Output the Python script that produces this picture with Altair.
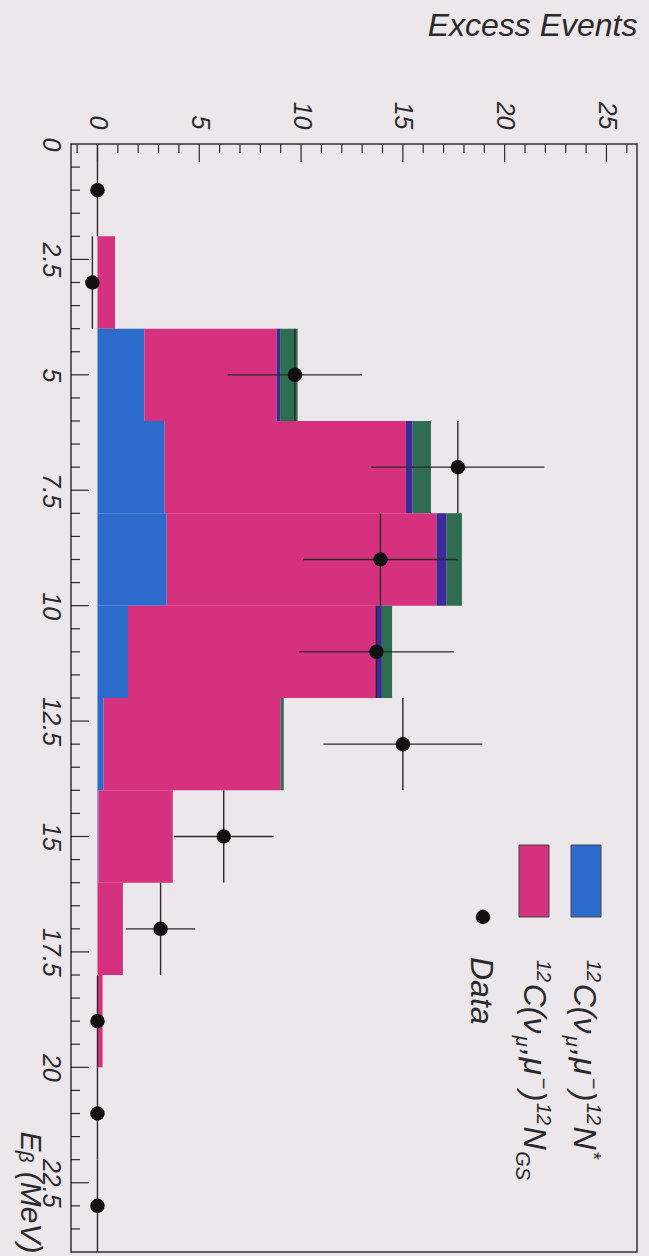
import altair as alt
import pandas as pd

# ---- data -------------------------------------------------------------
# Energy bins of the histogram (MeV)
bin_lo = [0, 2, 4, 6, 8, 10, 12, 14, 16, 18, 20, 22]
bin_hi = [2, 4, 6, 8, 10, 12, 14, 16, 18, 20, 22, 24]

# Expected excess per bin, by process
n_star = [0, 0, 2.3, 3.3, 3.4, 1.5, 0.3, 0.05, 0, 0, 0, 0]          # 12C(nu,mu-)12N*
n_gs = [0, 0.86, 6.5, 11.85, 13.25, 12.2, 8.7, 3.65, 1.25, 0.25, 0, 0]  # 12C(nu,mu-)12N_GS
extra_a = [0, 0, 0.17, 0.33, 0.5, 0.27, 0, 0, 0, 0, 0, 0]
extra_b = [0, 0, 0.86, 0.9, 0.75, 0.5, 0.15, 0, 0, 0, 0, 0]

# Measured excess events
data_e = [1, 3, 5, 7, 9, 11, 13, 15, 17, 19, 21, 23]
data_n = [0, -0.25, 9.7, 17.7, 13.9, 13.7, 15.0, 6.2, 3.1, 0, 0, 0]
data_err = [0, 0, 3.3, 4.25, 3.8, 3.8, 3.9, 2.45, 1.7, 0, 0, 0]

# Axis labels
count_ticks = [0, 5, 10, 15, 20, 25]
energy_ticks = [0, 2.5, 5, 7.5, 10, 12.5, 15, 17.5, 20, 22.5]

# ---- layout -----------------------------------------------------------
W, H = 566, 1108
XMIN, XMAX = -1.3, 26.5
EMIN, EMAX = 0, 24
FONT = "Liberation Sans"
BG = "#ece7eb"
INK = "#2a2a2a"

comp_names = ["nstar", "gs", "extra_a", "extra_b"]
comp_colors = ["#2c6bcb", "#d6317f", "#3b2a98", "#2e6d52"]


def count_at(px):
    return XMIN + px * (XMAX - XMIN) / W


def energy_at(py):
    return EMIN + py * (EMAX - EMIN) / H


# stacked histogram rectangles
rows = []
for i in range(len(bin_lo)):
    base = 0.0
    for name, vals in zip(comp_names, [n_star, n_gs, extra_a, extra_b]):
        v = vals[i]
        if v > 0:
            rows.append(dict(e0=bin_lo[i], e1=bin_hi[i], x0=base, x1=base + v, comp=name))
        base += v
hist = pd.DataFrame(rows)

pts = pd.DataFrame(dict(e=data_e, n=data_n, err=data_err))
pts["e_lo"] = [a - 1 for a in data_e]
pts["e_hi"] = [a + 1 for a in data_e]
pts["n_lo"] = pts["n"] - pts["err"]
pts["n_hi"] = pts["n"] + pts["err"]

x_scale = alt.Scale(domain=[XMIN, XMAX], nice=False, zero=False)
y_scale = alt.Scale(domain=[EMIN, EMAX], nice=False, zero=False, reverse=True)

x_axis = alt.Axis(
    orient="top", values=count_ticks, format=".1~f", ticks=False, domain=False, grid=False,
    labelAngle=90, labelAlign="right", labelBaseline="middle", labelPadding=15,
    labelFont=FONT, labelFontStyle="italic", labelFontSize=25, labelColor=INK,
    labelFlush=False, labelOverlap=False,
    title="Excess Events", titleFont=FONT, titleFontStyle="italic", titleFontWeight="normal",
    titleFontSize=32, titleColor=INK, titleAngle=0, titleAlign="right",
    titleBaseline="alphabetic", titleX=W, titleY=-109,
)
y_axis = alt.Axis(
    orient="left", values=energy_ticks, format=".1~f", ticks=False, domain=False, grid=False,
    labelAngle=90, labelAlign="center", labelBaseline="top", labelPadding=9,
    labelFont=FONT, labelFontStyle="italic", labelFontSize=25, labelColor=INK,
    labelFlush=False, labelOverlap=False,
    title="E\u1d66 (MeV)", titleFont=FONT, titleFontStyle="italic", titleFontWeight="normal",
    titleFontSize=30, titleColor=INK, titleAngle=90, titleAlign="right",
    titleBaseline="alphabetic", titleX=-51, titleY=H + 1,
)


def X(field):
    return alt.X(field, type="quantitative", scale=x_scale, axis=x_axis)


def Y(field):
    return alt.Y(field, type="quantitative", scale=y_scale, axis=y_axis)


comp_color = alt.Color("comp:N", scale=alt.Scale(domain=comp_names, range=comp_colors), legend=None)

bars = alt.Chart(hist).mark_rect().encode(
    x=X("x0"), x2="x1:Q", y=Y("e0"), y2="e1:Q", color=comp_color,
)

err_e = alt.Chart(pts).mark_rule(color=INK, strokeWidth=1.4).encode(
    x=X("n"), y=Y("e_lo"), y2="e_hi:Q",
)
err_n = alt.Chart(pts[pts["err"] > 0]).mark_rule(color=INK, strokeWidth=1.4).encode(
    x=X("n_lo"), x2="n_hi:Q", y=Y("e"),
)
dots = alt.Chart(pts).mark_circle(size=210, color="#111111", opacity=1).encode(
    x=X("n"), y=Y("e"),
)

# inward tick marks on the left (energy) and top (count) edges
e_minor = pd.DataFrame(dict(v=[k * 0.5 for k in range(1, 48) if k % 5 != 0]))
e_major = pd.DataFrame(dict(v=[k * 2.5 for k in range(1, 10)]))
c_minor = pd.DataFrame(dict(v=[k for k in range(-1, 27) if k % 5 != 0]))
c_major = pd.DataFrame(dict(v=count_ticks))


def left_ticks(df, length):
    return alt.Chart(df).mark_rule(color=INK, strokeWidth=1.2).encode(
        y=Y("v"), x=alt.value(0), x2=alt.value(length))


def top_ticks(df, length):
    return alt.Chart(df).mark_rule(color=INK, strokeWidth=1.2).encode(
        x=X("v"), y=alt.value(0), y2=alt.value(length))


ticks = [left_ticks(e_minor, 9), left_ticks(e_major, 18), top_ticks(c_minor, 9), top_ticks(c_major, 18)]

# ---- legend (drawn rotated inside the frame) --------------------------
sw = pd.DataFrame(dict(
    x0=[count_at(500), count_at(448)], x1=[count_at(530), count_at(478)],
    e0=[energy_at(701)] * 2, e1=[energy_at(773)] * 2, comp=["nstar", "gs"],
))
swatches = alt.Chart(sw).mark_rect(stroke="#444444", strokeWidth=1).encode(
    x=X("x0"), x2="x1:Q", y=Y("e0"), y2="e1:Q", color=comp_color,
)
leg_dot = alt.Chart(pd.DataFrame(dict(x=[count_at(412)], e=[energy_at(773)]))).mark_circle(
    size=210, color="#111111", opacity=1).encode(x=X("x"), y=Y("e"))

WIDTH = {"0": .556, "1": .556, "2": .556, "C": .722, "N": .722, "(": .333, ")": .333,
         ",": .278, "\u03bd": .52, "\u03bc": .577, "\u2212": .584, "*": .389, "G": .778,
         "S": .667, "D": .722, "a": .556, "t": .278}
BIG, SMALL = 32, 20
SUP, SUB = 13, -8
GAP = 1.5


def text_run(pieces, base_px, start_py):
    out = []
    pos = start_py
    for txt, fs, shift in pieces:
        out.append(dict(t=txt, fs=fs, x=count_at(base_px + shift), e=energy_at(pos)))
        pos += sum(WIDTH.get(ch, .556) for ch in txt) * fs + GAP
    return out


head = [("12", SMALL, SUP), ("C(\u03bd", BIG, 0), ("\u03bc", SMALL, SUB), (",\u03bc", BIG, 0),
        ("\u2212", SMALL, SUP), (")", BIG, 0), ("12", SMALL, SUP), ("N", BIG, 0)]
leg_rows = (text_run(head + [("*", SMALL, SUP)], 503, 816)
            + text_run(head + [("GS", SMALL, SUB)], 453, 816)
            + text_run([("Data", BIG, 0)], 400, 813))
leg_text = alt.Chart(pd.DataFrame(leg_rows)).mark_text(
    angle=90, align="left", baseline="alphabetic", font=FONT, fontStyle="italic", color=INK,
).encode(
    x=X("x"), y=Y("e"), text="t:N", size=alt.Size("fs:Q", scale=None),
)

chart = alt.layer(bars, err_e, err_n, dots, *ticks, swatches, leg_dot, leg_text).properties(
    width=W, height=H,
    autosize=alt.AutoSizeParams(type="none"),
    padding={"left": 71, "top": 144, "right": 12, "bottom": 4},
    background=BG,
).configure(
    font=FONT,
    view=alt.ViewConfig(stroke="#333333", strokeWidth=1.5, fill=BG),
)

chart.save("out.html", embed_options={"renderer": "svg", "actions": False})
